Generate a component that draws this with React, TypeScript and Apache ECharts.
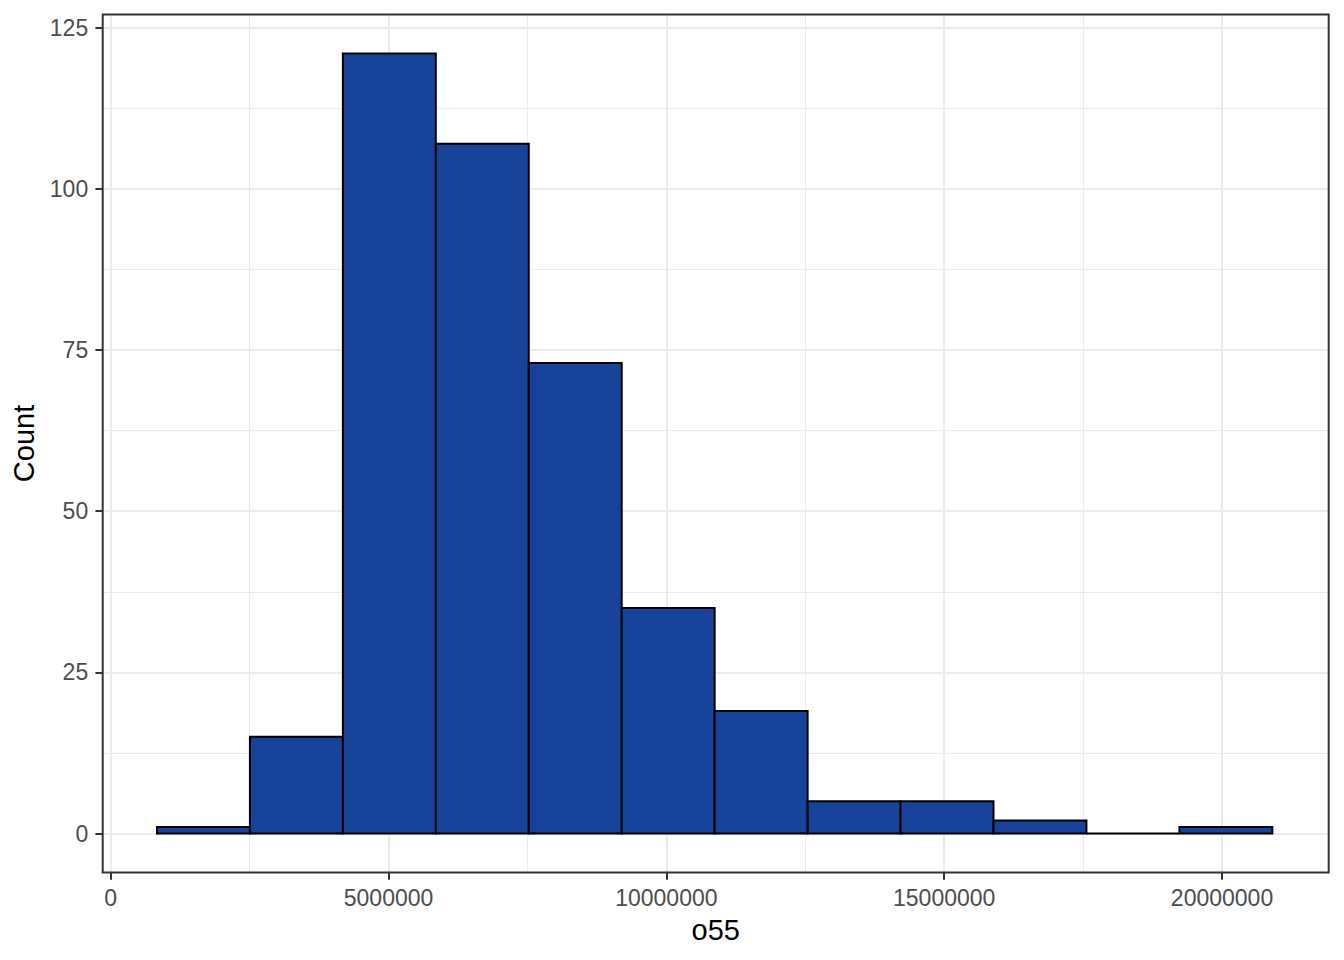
import React, { useEffect, useRef } from "react";
import * as echarts from "echarts";

const binEdges = [833000, 2505700, 4178400, 5851100, 7523800, 9196500, 10869200, 12541900, 14214600, 15887300, 17560000, 19232700, 20905400];
const counts = [1, 15, 121, 107, 73, 35, 19, 5, 5, 2, 0, 1];
const xTicks = [0, 5000000, 10000000, 15000000, 20000000];
const yTicks = [0, 25, 50, 75, 100, 125];
const xTitle = "o55";
const yTitle = "Count";

export default function App() {
  const ref = useRef<HTMLDivElement>(null);
  useEffect(() => {
    const chart = echarts.init(ref.current!, null, { renderer: "svg" });
    const W = 1344, H = 960;
    const L = 102.7, T = 14.5, R = 1328.7, B = 872.5;
    const font = "'Liberation Sans', Arial, Helvetica, sans-serif";
    const data = counts.map((c, i) => [binEdges[i], binEdges[i + 1], c]);
    const gridColor = "#EBEBEB";
    chart.setOption({
      animation: false,
      backgroundColor: "#FFFFFF",
      grid: { left: L, top: T, right: W - R, bottom: H - B, containLabel: false, outerBoundsMode: "none" },
      xAxis: {
        type: "value",
        min: -144000,
        max: 21920000,
        minInterval: 5000000,
        maxInterval: 5000000,
        name: xTitle,
        nameLocation: "middle",
        nameGap: 42.6,
        nameTextStyle: { fontFamily: font, fontSize: 29, color: "#000000" },
        axisLine: { show: false, onZero: false },
        axisTick: { show: true, length: 7.3, customValues: xTicks, lineStyle: { color: "#333333", width: 2 } },
        axisLabel: {
          show: true,
          customValues: xTicks,
          margin: 13.5,
          fontFamily: font,
          fontSize: 23,
          color: "#4D4D4D",
          formatter: (v: number) => String(v),
        },
        splitLine: { show: true, customValues: xTicks, lineStyle: { color: gridColor, width: 2 } },
        minorTick: { show: false, splitNumber: 2 },
        minorSplitLine: { show: true, lineStyle: { color: gridColor, width: 1 } },
      },
      yAxis: {
        type: "value",
        min: -6.05,
        max: 127.05,
        minInterval: 25,
        maxInterval: 25,
        name: yTitle,
        nameLocation: "middle",
        nameRotate: 90,
        nameGap: 61.3,
        nameTextStyle: { fontFamily: font, fontSize: 29, color: "#000000" },
        axisLine: { show: false, onZero: false },
        axisTick: { show: true, length: 7.3, customValues: yTicks, lineStyle: { color: "#333333", width: 2 } },
        axisLabel: {
          show: true,
          customValues: yTicks,
          margin: 14.5,
          fontFamily: font,
          fontSize: 23,
          color: "#4D4D4D",
          formatter: (v: number) => String(v),
        },
        splitLine: { show: true, customValues: yTicks, lineStyle: { color: gridColor, width: 2 } },
        minorTick: { show: false, splitNumber: 2 },
        minorSplitLine: { show: true, lineStyle: { color: gridColor, width: 1 } },
      },
      series: [
        {
          type: "custom",
          data,
          encode: { x: [0, 1], y: 2 },
          renderItem: (params: any, api: any) => {
            const p0 = api.coord([api.value(0), 0]);
            const p1 = api.coord([api.value(1), api.value(2)]);
            return {
              type: "rect",
              shape: { x: p0[0], y: p1[1], width: p1[0] - p0[0], height: p0[1] - p1[1] },
              style: { fill: "#17439A", stroke: "#000000", lineWidth: 2 },
            };
          },
        },
      ],
      graphic: [
        {
          type: "rect",
          z: 100,
          silent: true,
          shape: { x: L, y: T, width: R - L, height: B - T },
          style: { fill: "transparent", stroke: "#333333", lineWidth: 2 },
        },
      ],
    });
    return () => chart.dispose();
  }, []);
  return <div ref={ref} style={{ position: "absolute", left: 0, top: 0, width: 1344, height: 960 }} />;
}
